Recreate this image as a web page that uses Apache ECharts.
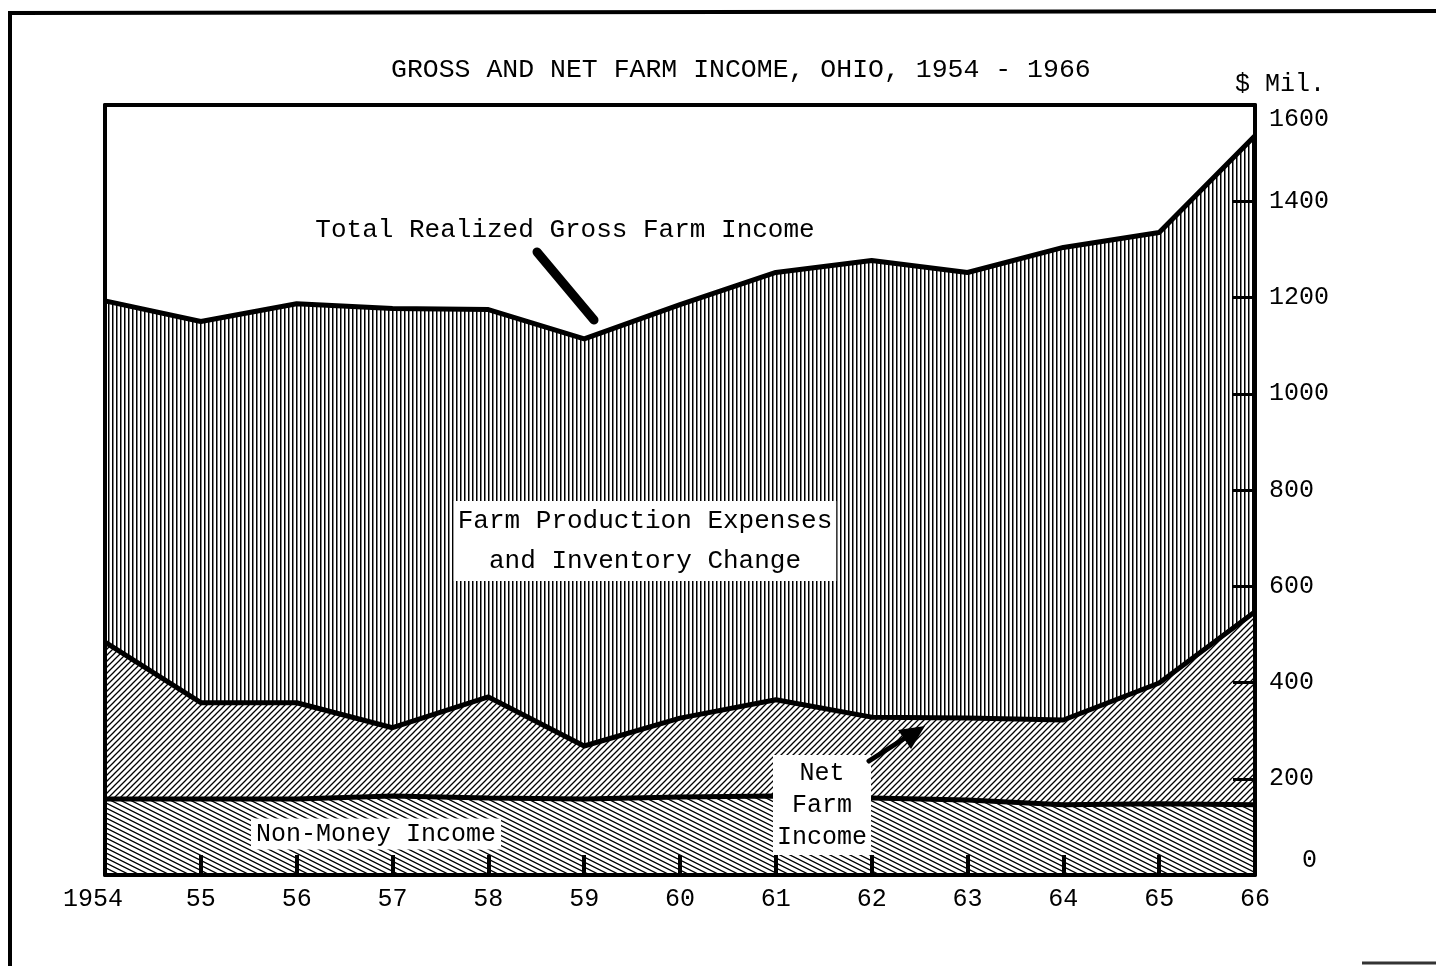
<!DOCTYPE html>
<html>
<head>
<meta charset="utf-8">
<title>Gross and Net Farm Income, Ohio, 1954 - 1966</title>
<script src="https://cdn.jsdelivr.net/npm/echarts@6/dist/echarts.min.js"></script>
<style>
  html, body { margin: 0; padding: 0; background: #fff; }
  #chart { width: 1436px; height: 966px; }
</style>
</head>
<body>
<div id="chart"></div>
<script>
// years on the bottom axis
const years = ['1954', '55', '56', '57', '58', '59', '60', '61', '62', '63', '64', '65', '66'];
// $ million (tops of each band)
const grossIncome = [1193, 1150, 1187, 1177, 1175, 1114, 1185, 1252, 1277, 1252, 1304, 1335, 1536];
const netIncome   = [484, 358, 358, 306, 370, 268, 326, 364, 328, 326, 322, 399, 547];
const nonMoney    = [158, 158, 158, 164, 160, 158, 162, 164, 160, 156, 146, 148, 146];
const yTicks = [0, 200, 400, 600, 800, 1000, 1200, 1400, 1600];

const mono = '"Liberation Mono", "DejaVu Sans Mono", monospace';

// hatch fills like the printed figure
function hatch(kind) {
    const c = document.createElement('canvas');
    let w = 4, h = 4;
    if (kind === 'fwd') { w = 6; h = 6; }
    if (kind === 'back') { w = 10; h = 5; }
    c.width = w; c.height = h;
    const ctx = c.getContext('2d');
    ctx.fillStyle = '#fff';
    ctx.fillRect(0, 0, w, h);
    ctx.strokeStyle = '#000';
    ctx.fillStyle = '#000';
    if (kind === 'vert') {
        ctx.fillRect(0, 0, 1.5, h);
    } else if (kind === 'fwd') {
        ctx.lineWidth = 1.3;
        ctx.beginPath();
        ctx.moveTo(-1, h + 1); ctx.lineTo(w + 1, -1);
        ctx.moveTo(-1, 1); ctx.lineTo(1, -1);
        ctx.moveTo(w - 1, h + 1); ctx.lineTo(w + 1, h - 1);
        ctx.stroke();
    } else {
        ctx.lineWidth = 1.3;
        ctx.beginPath();
        for (let k = -1; k <= 1; k++) {
            ctx.moveTo(-2, -1 + k * h); ctx.lineTo(w + 2, h + 1 + k * h);
        }
        ctx.stroke();
    }
    return { image: c, repeat: 'repeat' };
}

const chart = echarts.init(document.getElementById('chart'));

const lineStyle = { color: '#000', width: 5 };
const frameAxis = {
    axisLine: { show: true, onZero: false, lineStyle: { color: '#000', width: 4 } },
    axisTick: { show: false },
    axisLabel: { show: false },
    splitLine: { show: false },
    z: 10
};

const option = {
    backgroundColor: '#fff',
    animation: false,
    title: {
        text: 'GROSS AND NET FARM INCOME, OHIO, 1954 - 1966',
        left: 386,
        top: 51,
        textStyle: { fontFamily: mono, fontSize: 26.5, fontWeight: 'normal', color: '#000' }
    },
    grid: { left: 105, right: 181, top: 105, bottom: 91 },
    xAxis: [
        {
            type: 'category',
            data: years,
            boundaryGap: false,
            position: 'bottom',
            z: 10,
            axisLine: { onZero: false, lineStyle: { color: '#000', width: 4 } },
            axisTick: { inside: true, length: 20, interval: 0, lineStyle: { color: '#000', width: 4 } },
            axisLabel: {
                interval: 0,
                margin: 12,
                fontFamily: mono,
                fontSize: 25,
                color: '#000',
                formatter: v => v === '1954' ? '{first|' + v + '}' : v,
                rich: { first: { fontFamily: mono, fontSize: 25, color: '#000', padding: [0, 24, 0, 0] } }
            }
        },
        Object.assign({ type: 'category', data: years, boundaryGap: false, position: 'top' }, frameAxis)
    ],
    yAxis: [
        {
            type: 'value',
            min: yTicks[0],
            max: yTicks[yTicks.length - 1],
            interval: 200,
            position: 'right',
            name: '$ Mil.',
            nameLocation: 'end',
            nameGap: 8,
            nameTextStyle: { fontFamily: mono, fontSize: 25, color: '#000', align: 'center', padding: [0, 0, 0, 50] },
            z: 10,
            axisLine: { show: true, lineStyle: { color: '#000', width: 4 } },
            axisTick: { show: true, inside: true, length: 22, lineStyle: { color: '#000', width: 3 } },
            splitLine: { show: false },
            axisLabel: {
                margin: 14,
                fontFamily: mono,
                fontSize: 25,
                color: '#000',
                formatter: v => v === 0 ? '{low|0}' : (v === 1600 ? '{high|1600}' : String(v)),
                rich: {
                    low: { fontFamily: mono, fontSize: 25, color: '#000', padding: [0, 0, 30, 33] },
                    high: { fontFamily: mono, fontSize: 25, color: '#000', padding: [28, 0, 0, 0] }
                }
            }
        },
        Object.assign({ type: 'value', min: 0, max: 1600, interval: 200, position: 'left' }, frameAxis)
    ],
    series: [
        {
            name: 'Total Realized Gross Farm Income',
            type: 'line',
            data: grossIncome,
            symbol: 'none',
            z: 2,
            lineStyle: lineStyle,
            areaStyle: { color: hatch('vert'), opacity: 1 }
        },
        {
            name: 'Net Farm Income',
            type: 'line',
            data: netIncome,
            symbol: 'none',
            z: 3,
            lineStyle: lineStyle,
            areaStyle: { color: hatch('fwd'), opacity: 1 }
        },
        {
            name: 'Non-Money Income',
            type: 'line',
            data: nonMoney,
            symbol: 'none',
            z: 4,
            lineStyle: lineStyle,
            areaStyle: { color: hatch('back'), opacity: 1 }
        }
    ],
    graphic: [
        // outer frame of the page
        { type: 'polyline', z: 100, shape: { points: [[10, 966], [10, 13], [1436, 11]] },
          style: { stroke: '#000', lineWidth: 4, fill: null } },
        { type: 'line', z: 100, shape: { x1: 1362, y1: 963, x2: 1436, y2: 963 },
          style: { stroke: '#333', lineWidth: 3 } },
        // labels
        { type: 'text', z: 100, x: 565, y: 230,
          style: { text: 'Total Realized Gross Farm Income', font: '26px ' + mono, fill: '#000',
                   align: 'center', verticalAlign: 'middle' } },
        { type: 'line', z: 100, shape: { x1: 537, y1: 252, x2: 594, y2: 320 },
          style: { stroke: '#000', lineWidth: 9, lineCap: 'round' } },
        { type: 'text', z: 100, x: 645, y: 541,
          style: { text: 'Farm Production Expenses\nand Inventory Change', font: '26px ' + mono, fill: '#000',
                   align: 'center', verticalAlign: 'middle', lineHeight: 40,
                   backgroundColor: '#fff', padding: [0, 4, 0, 4] } },
        { type: 'text', z: 100, x: 376, y: 834,
          style: { text: 'Non-Money Income', font: '25px ' + mono, fill: '#000',
                   align: 'center', verticalAlign: 'middle', backgroundColor: '#fff', padding: [3, 5, 3, 5] } },
        { type: 'text', z: 100, x: 822, y: 805,
          style: { text: 'Net\nFarm\nIncome', font: '25px ' + mono, fill: '#000',
                   align: 'center', verticalAlign: 'middle', lineHeight: 32,
                   backgroundColor: '#fff', padding: [4, 4, 0, 4] } },
        { type: 'line', z: 100, shape: { x1: 869, y1: 761, x2: 905, y2: 738 },
          style: { stroke: '#000', lineWidth: 5, lineCap: 'round' } },
        { type: 'polygon', z: 100, shape: { points: [[925, 726], [898, 730], [911, 749]] },
          style: { fill: '#000' } }
    ]
};

chart.setOption(option);
</script>
</body>
</html>
